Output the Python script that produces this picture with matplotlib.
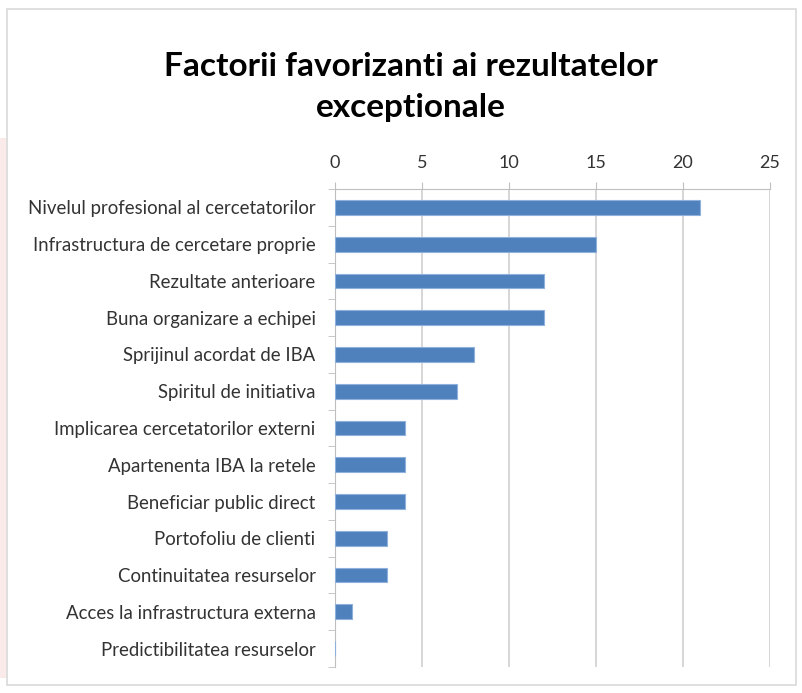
import matplotlib.pyplot as plt
from matplotlib.patches import Rectangle

plt.rcParams['font.family'] = ['Lato', 'DejaVu Sans']

# date
factori = ['Nivelul profesional al cercetatorilor',
           'Infrastructura de cercetare proprie',
           'Rezultate anterioare',
           'Buna organizare a echipei',
           'Sprijinul acordat de IBA',
           'Spiritul de initiativa',
           'Implicarea cercetatorilor externi',
           'Apartenenta IBA la retele',
           'Beneficiar public direct',
           'Portofoliu de clienti',
           'Continuitatea resurselor',
           'Acces la infrastructura externa',
           'Predictibilitatea resurselor']
valori = [21, 15, 12, 12, 8, 7, 4, 4, 4, 3, 3, 1, 0]
ticks_x = [0, 5, 10, 15, 20, 25]
titlu = ['Factorii favorizanti ai rezultatelor', 'exceptionale']

fig = plt.figure(figsize=(8.03, 6.93), dpi=100)
# chenarul imaginii
fig.patches.append(Rectangle((7/803, 8/693), 789/803, 676/693, transform=fig.transFigure,
                             fill=False, edgecolor='#d9d9d9', linewidth=1.2))
fig.patches.append(Rectangle((0, 15/693), 6/803, 540/693, transform=fig.transFigure,
                             facecolor='#fbeaea', edgecolor='none'))

ax = fig.add_axes([335/803, 26/693, 435/803, 478/693])
y = list(range(len(factori)))
ax.barh(y, valori, height=0.4, color='#4f81bd', edgecolor='#8eb0dc', linewidth=0.8, zorder=3)
ax.set_ylim(len(factori) - 0.5, -0.5)
ax.set_xlim(0, 25)
ax.set_xticks(ticks_x)
ax.xaxis.tick_top()
ax.tick_params(axis='x', length=5, color='#bfbfbf', labelsize=13, labelcolor='#333333', pad=8)
ax.set_yticks(y)
ax.set_yticklabels(factori)
ax.set_yticks([i - 0.5 for i in range(len(factori) + 1)], minor=True)
ax.tick_params(axis='y', which='major', length=0, labelsize=13.4, labelcolor='#333333', pad=14)
ax.tick_params(axis='y', which='minor', length=5, color='#bfbfbf')
ax.grid(axis='x', color='#d0d0d0', linewidth=1.2, zorder=0)
for s in ['right', 'bottom']:
    ax.spines[s].set_visible(False)
for s in ['top', 'left']:
    ax.spines[s].set_color('#bfbfbf')

fig.text(411/803, 1 - 66/693, titlu[0], ha='center', va='center', fontsize=24, fontweight='bold')
fig.text(411/803, 1 - 108/693, titlu[1], ha='center', va='center', fontsize=24, fontweight='bold')

fig.savefig('out.png', dpi=100)
